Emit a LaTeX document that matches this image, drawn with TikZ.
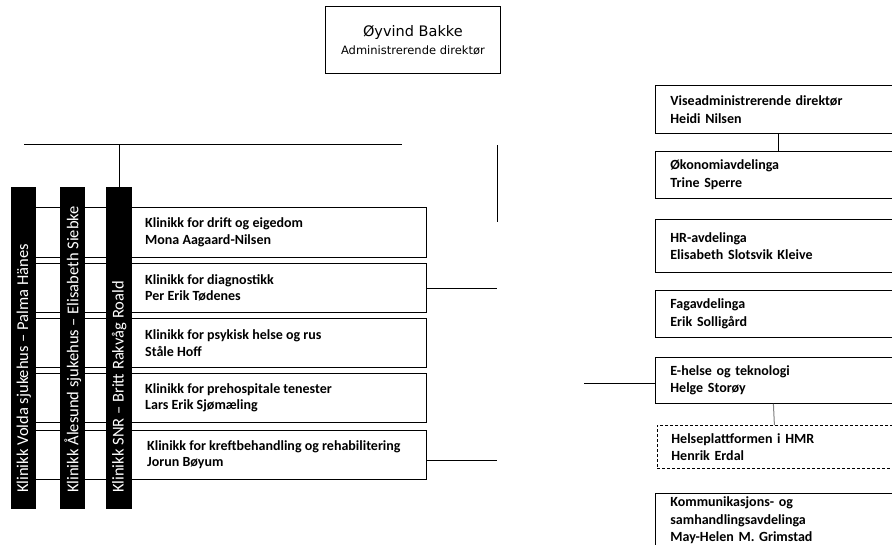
\documentclass[tikz,border=0pt]{standalone}
\usepackage{fontspec}
\setmainfont{Carlito}
\newfontfamily\dejavu{DejaVu Sans}
\usetikzlibrary{positioning}

\begin{document}
\begin{tikzpicture}[x=1pt, y=-1pt,
    boks/.style={draw, line width=0.8pt, anchor=north west, minimum width=246pt,
      inner xsep=15pt, text width=216pt, align=left,
      font=\fontsize{14}{17.5}\selectfont\bfseries},
    klinikk/.style={draw, line width=0.8pt, anchor=north west,
      minimum width=401pt, minimum height=49pt},
    ktekst/.style={inner sep=0pt, align=left,
      font=\fontsize{14}{16.5}\selectfont\bfseries},
    sjukehus/.style={fill=black, rotate=90, anchor=north west,
      minimum width=322pt, minimum height=25pt, inner sep=0pt},
    stekst/.style={text=white, rotate=90, anchor=west, inner sep=0pt,
      font=\fontsize{16.5}{18}\selectfont},
    linje/.style={line width=0.6pt}]
      \useasboundingbox (0,0) rectangle (892,544);
      \clip (0,0) rectangle (892,544);

      % toppen
      \node[draw, line width=0.8pt, anchor=north west, minimum width=175pt,
        minimum height=67pt, align=center] (adm) at (325,6)
        {{\dejavu\fontsize{14.5}{18}\selectfont Øyvind Bakke}\\[6pt]
         {\dejavu\fontsize{11.5}{18}\selectfont Administrerende direktør}};

      % klinikkane
      \node[klinikk, minimum height=50pt] (drift) at (25,207) {};
      \node[klinikk] (diag) at (25,263) {};
      \node[klinikk] (psyk) at (25,318) {};
      \node[klinikk] (prehosp) at (25,373) {};
      \node[klinikk] (kreft) at (25,430) {};
      \node[ktekst, right=120pt of drift.west] (driftt)
        {Klinikk for drift og eigedom\\Mona Aagaard-Nilsen};
      \node[ktekst, right=120pt of diag.west] (diagt)
        {Klinikk for diagnostikk\\Per Erik Tødenes};
      \node[ktekst, right=120pt of psyk.west] (psykt)
        {Klinikk for psykisk helse og rus\\Ståle Hoff};
      \node[ktekst, right=120pt of prehosp.west] (prehospt)
        {Klinikk for prehospitale tenester\\Lars Erik Sjømæling};
      \node[ktekst, right=122pt of kreft.west] (kreftt)
        {Klinikk for kreftbehandling og rehabilitering\\Jorun Bøyum};

      % sjukehusa
      \node[sjukehus] (volda) at (11,509) {};
      \node[sjukehus] (alesund) at (60,509) {};
      \node[sjukehus, minimum height=26pt] (snr) at (106,509) {};
      \node[stekst] (voldat) at ([yshift=16pt]volda.west)
        {Klinikk Volda sjukehus – Palma Hänes};
      \node[stekst] (alesundt) at ([yshift=16pt]alesund.west)
        {Klinikk Ålesund sjukehus – Elisabeth Siebke};
      \node[stekst] (snrt) at ([yshift=16pt]snr.west)
        {Klinikk SNR – Britt Rakvåg Roald};

      % stab
      \node[boks, minimum height=48pt] (vise) at (655,85)
        {Viseadministrerende direktør\\Heidi Nilsen};
      \node[boks, minimum height=47pt] (okonomi) at (655,151)
        {Økonomiavdelinga\\Trine Sperre};
      \node[boks, minimum height=53pt] (hr) at (655,219)
        {HR-avdelinga\\Elisabeth Slotsvik Kleive};
      \node[boks, minimum height=47pt] (fag) at (655,290)
        {Fagavdelinga\\Erik Solligård};
      \node[boks, minimum height=46pt] (ehelse) at (655,357)
        {E-helse og teknologi\\Helge Storøy};
      \node[boks, dash pattern=on 3pt off 2pt, minimum height=43pt,
        minimum width=244pt, inner xsep=11pt] (helse) at (657,425)
        {Helseplattformen i HMR\\Henrik Erdal};
      \node[boks, minimum height=62pt, text depth=52pt] (komm) at (655,493)
        {Kommunikasjons- og\\samhandlingsavdelinga\\May-Helen M. Grimstad};

      % linjer
      \coordinate (hv) at (24,144);
      \coordinate (hh) at (402,144);
      \coordinate (vt) at (497,145);
      \coordinate (vb) at (497,222);
      \coordinate (d2) at (497,288);
      \coordinate (k5) at (497,460);
      \coordinate (eh) at (584,383);
      \draw[linje] (hv) -- (hh);
      \draw[linje] (snr.east) -- (snr.east |- hh);
      \draw[linje] (vt) -- (vb);
      \draw[linje] (diag.east |- d2) -- (d2);
      \draw[linje] (kreft.east |- k5) -- (k5);
      \draw[linje] (eh) -- (ehelse.west |- eh);
      \draw[linje] (vise) -- (okonomi);
      \draw[line width=1pt, gray] ([xshift=-5pt]ehelse.south) -- ([xshift=-5pt]helse.north);
    \end{tikzpicture}
\end{document}
